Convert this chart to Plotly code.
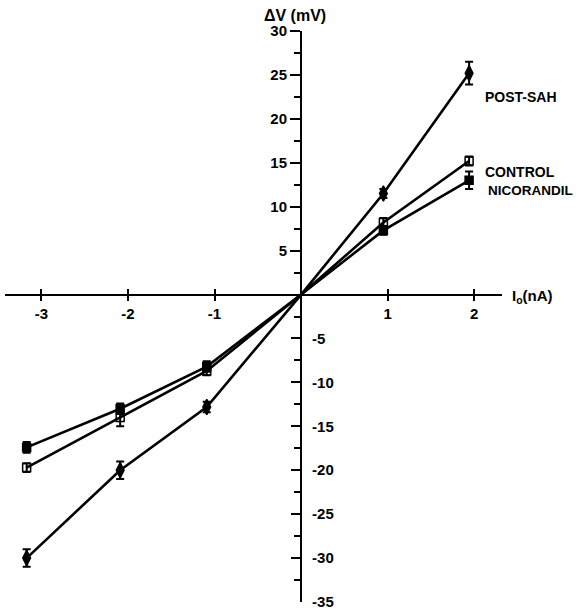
import plotly.graph_objects as go

# Data
current_x = [-3.17, -2.09, -1.09, 0.95, 1.94]

post_sah = [-30.0, -20.0, -12.8, 11.5, 25.2]
post_sah_err = [1.0, 1.0, 0.6, 0.5, 1.3]

control = [-19.7, -14.0, -8.7, 8.2, 15.2]
control_err = [0.5, 1.0, 0.5, 0.5, 0.5]

nicorandil = [-17.4, -13.0, -8.2, 7.3, 13.0]
nicorandil_err = [0.6, 0.6, 0.6, 0.5, 1.0]

x_ticks = [-3, -2, -1, 1, 2]
y_ticks_pos = [30, 25, 20, 15, 10, 5]
y_ticks_neg = [-5, -10, -15, -20, -25, -30, -35]

series_names = ["POST-SAH", "CONTROL", "NICORANDIL"]

X_RANGE = [-3.42, 2.32]
Y_RANGE = [-35, 30]

FONT = "Liberation Sans, Arial, Helvetica, sans-serif"

fig = go.Figure()

def add_series(ys, errs, symbol, size, name):
    # connecting line passes through the origin
    xs_line = current_x[:3] + [0.0] + current_x[3:]
    ys_line = ys[:3] + [0.0] + ys[3:]
    fig.add_trace(go.Scatter(
        x=xs_line, y=ys_line, mode="lines",
        line=dict(color="black", width=2.6),
        showlegend=False, hoverinfo="skip"))
    fig.add_trace(go.Scatter(
        x=current_x, y=ys, mode="markers", name=name,
        marker=dict(symbol=symbol, size=size, color="black",
                    line=dict(color="black", width=1.5)),
        error_y=dict(type="data", array=errs, color="black",
                     thickness=2, width=4),
        showlegend=False))

add_series(post_sah, post_sah_err, "diamond-tall", 11, series_names[0])
add_series(control, control_err, "square-open", 8, series_names[1])
add_series(nicorandil, nicorandil_err, "square", 8, series_names[2])

y_pos_frac = (0 - Y_RANGE[0]) / (Y_RANGE[1] - Y_RANGE[0])
x_pos_frac = (0 - X_RANGE[0]) / (X_RANGE[1] - X_RANGE[0])

tickfont = dict(family=FONT, size=15, color="black", weight="bold")

fig.update_layout(
    width=582, height=611,
    margin=dict(l=5, r=80, t=31, b=9, autoexpand=False),
    paper_bgcolor="white", plot_bgcolor="white",
    showlegend=False,
    xaxis=dict(
        range=X_RANGE, anchor="free", position=y_pos_frac, automargin=False,
        showline=True, linecolor="black", linewidth=1.8,
        showgrid=False, zeroline=False,
        tickmode="array", tickvals=x_ticks,
        ticktext=[str(v) for v in x_ticks],
        ticks="outside", ticklen=6, tickwidth=2, tickcolor="black",
        tickfont=tickfont),
    xaxis2=dict(
        range=X_RANGE, overlaying="x", anchor="free", position=y_pos_frac,
        automargin=False,
        showline=False, showgrid=False, zeroline=False,
        tickmode="array", tickvals=x_ticks, showticklabels=False,
        ticks="inside", ticklen=6, tickwidth=2, tickcolor="black"),
    yaxis=dict(
        range=Y_RANGE, anchor="free", position=x_pos_frac, automargin=False,
        showline=True, linecolor="black", linewidth=2.2,
        showgrid=False, zeroline=False,
        tickmode="array", tickvals=y_ticks_pos,
        ticktext=[str(v) for v in y_ticks_pos],
        ticks="outside", ticklen=10, tickwidth=2, tickcolor="black",
        tickfont=tickfont,
        minor=dict(tickmode="linear", tick0=2.5, dtick=5, ticks="outside",
                   ticklen=6, tickwidth=2, tickcolor="black")),
    yaxis2=dict(
        range=Y_RANGE, overlaying="y", side="right", anchor="free",
        position=x_pos_frac, automargin=False,
        showline=False, showgrid=False, zeroline=False,
        tickmode="array", tickvals=y_ticks_neg,
        ticktext=[str(v) for v in y_ticks_neg],
        ticks="inside", ticklen=10, tickwidth=2, tickcolor="black",
        ticklabelstandoff=10,
        tickfont=tickfont),
)

# invisible trace to activate the overlay axes
fig.add_trace(go.Scatter(x=[0], y=[0], xaxis="x2", yaxis="y2",
                         mode="markers", marker=dict(opacity=0),
                         showlegend=False, hoverinfo="skip"))

label_font = dict(family=FONT, size=14, color="black", weight="bold")
fig.add_annotation(x=2.1, y=22.5, text=series_names[0], showarrow=False,
                   xanchor="left", yanchor="middle", font=label_font)
fig.add_annotation(x=2.1, y=13.9, text=series_names[1], showarrow=False,
                   xanchor="left", yanchor="middle", font=label_font)
fig.add_annotation(x=2.14, y=11.8, text=series_names[2], showarrow=False,
                   xanchor="left", yanchor="middle",
                   font=dict(family=FONT, size=13.5, color="black", weight="bold"))

fig.add_annotation(x=0, y=1, yref="paper", text="ΔV (mV)", showarrow=False,
                   xanchor="center", yanchor="bottom", yshift=5, xshift=-6,
                   font=dict(family=FONT, size=16, color="black", weight="bold"))
fig.add_annotation(x=X_RANGE[1], y=0, text="I<sub>o</sub>(nA)", showarrow=False,
                   xanchor="left", yanchor="middle", xshift=8, yshift=-2,
                   font=dict(family=FONT, size=15, color="black", weight="bold"))

fig.write_html("out.html", config={"displayModeBar": False},
               post_script="document.body.style.margin='0px';")
